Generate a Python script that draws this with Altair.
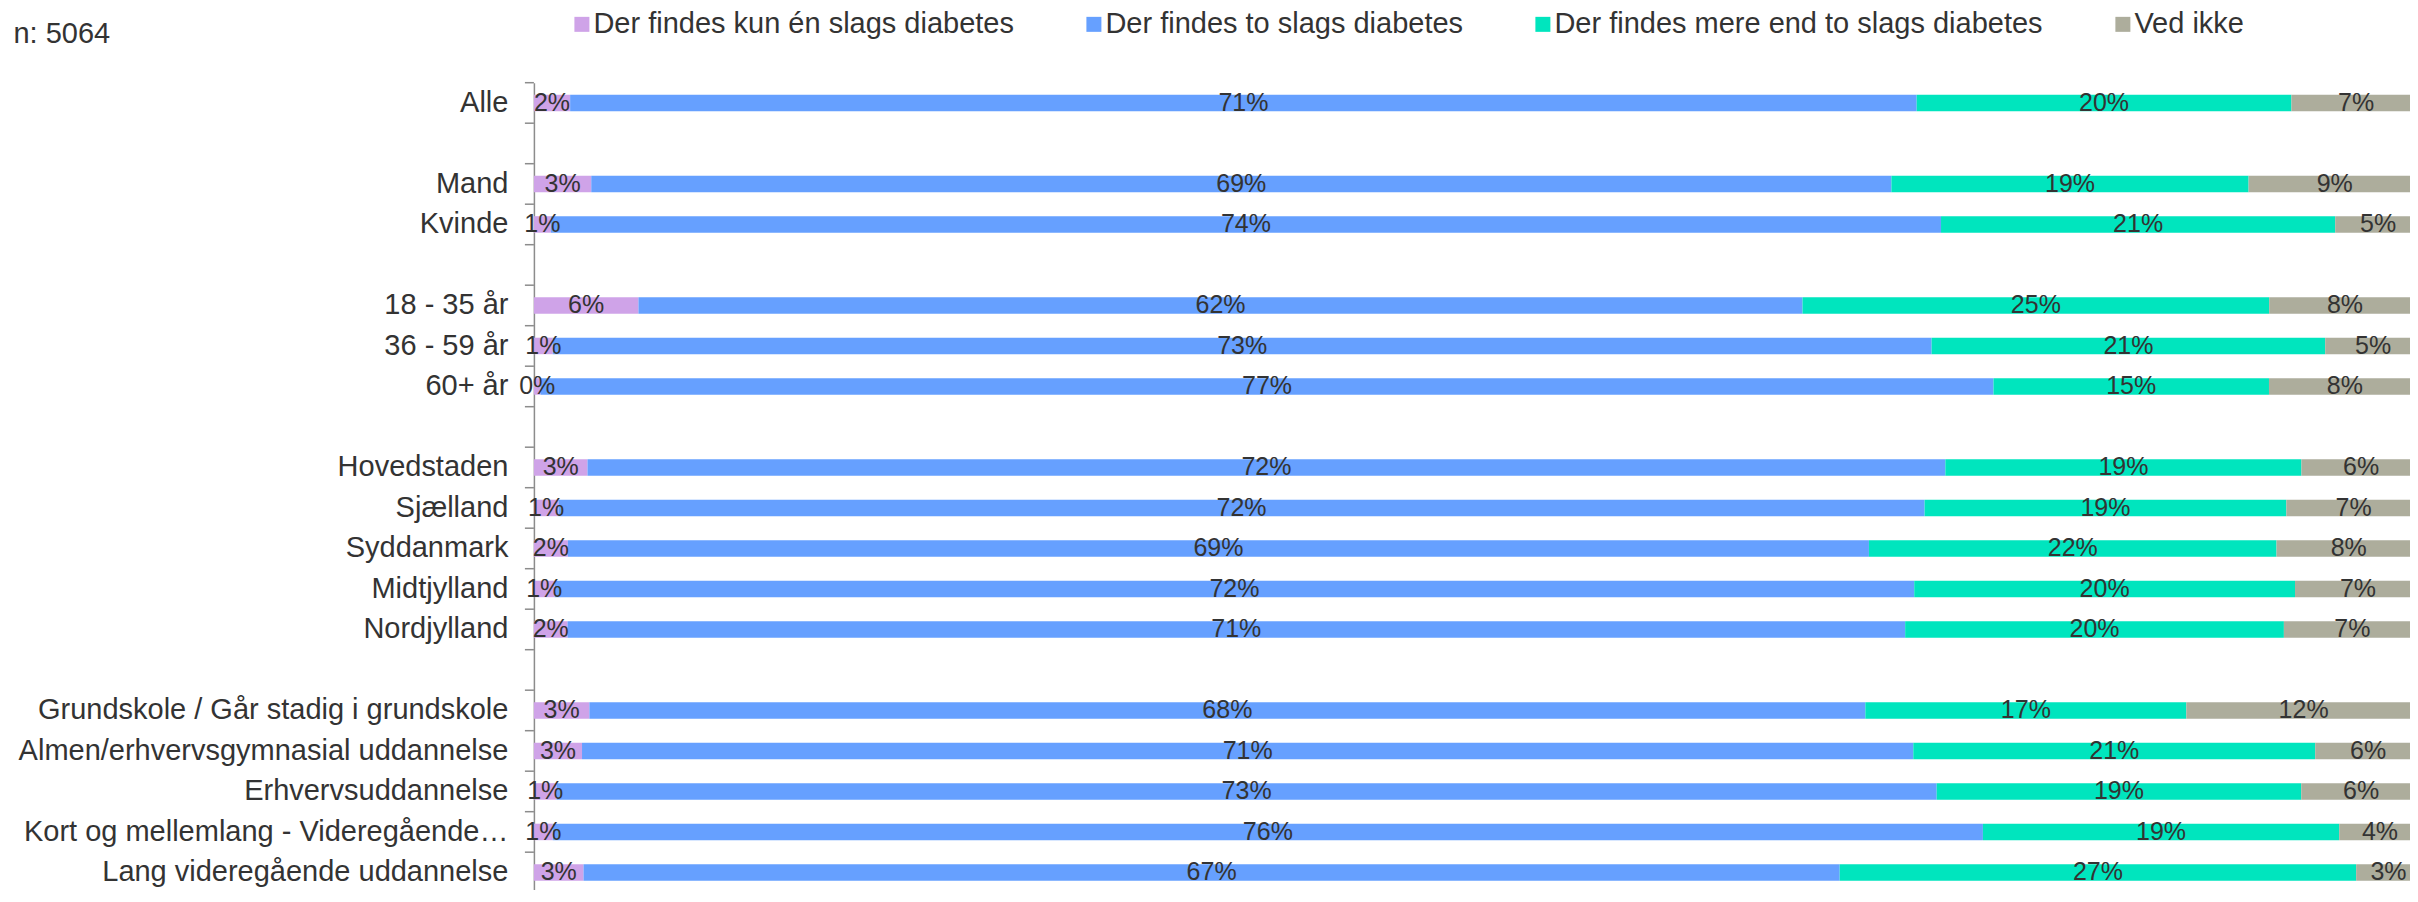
import altair as alt
import pandas as pd

# ---- data -------------------------------------------------------------
categories = [
    "Alle", " ",
    "Mand", "Kvinde", "  ",
    "18 - 35 år", "36 - 59 år", "60+ år", "   ",
    "Hovedstaden", "Sjælland", "Syddanmark", "Midtjylland", "Nordjylland", "    ",
    "Grundskole / Går stadig i grundskole",
    "Almen/erhvervsgymnasial uddannelse",
    "Erhvervsuddannelse",
    "Kort og mellemlang - Videregående…",
    "Lang videregående uddannelse",
]
groups = [c for c in categories if c.strip()]

series = [
    "Der findes kun én slags diabetes",
    "Der findes to slags diabetes",
    "Der findes mere end to slags diabetes",
    "Ved ikke",
]
colors = ["#CFA3E8", "#66A0FF", "#00E5BE", "#ADAD9C"]

kun_en = [1.92, 3.04, 0.9, 5.54, 1.0, 0.35, 2.84, 1.3, 1.8, 1.1, 1.78, 2.94, 2.55, 1.2, 1.0, 2.63]
to_slags = [71.36, 68.90, 73.67, 61.69, 73.07, 77.0, 71.96, 72.4, 68.95, 72.05, 70.89, 67.62, 70.55, 73.14, 75.79, 66.57]
mere_end_to = [19.86, 18.93, 20.89, 24.73, 20.86, 14.6, 18.87, 19.17, 21.6, 20.18, 20.07, 17.01, 21.3, 19.32, 18.88, 27.37]
ved_ikke = [6.86, 9.13, 4.54, 8.04, 5.07, 8.05, 6.33, 7.13, 7.65, 6.67, 7.26, 12.43, 5.6, 6.34, 4.33, 3.43]

subtitle_text = "n: 5064"

rows = []
for gi, g in enumerate(groups):
    cum = 0.0
    for si, (s, vals) in enumerate(zip(series, [kun_en, to_slags, mere_end_to, ved_ikke])):
        v = vals[gi]
        rows.append(dict(group=g, series=s, order=si, value=v, start=cum,
                         end=cum + v, mid=cum + v / 2, label=f"{v:.0f}%"))
        cum += v
df = pd.DataFrame(rows)
ticks_df = pd.DataFrame({"group": categories})

FONT = "Liberation Sans"
TXT = "#333333"
AX = "#8C8C8C"

# the original chart is cropped at its right and bottom edges: the scales
# run slightly past the visible view
yscale = alt.Scale(domain=categories, paddingInner=0, paddingOuter=0, range=[0, 810])
xscale = alt.Scale(domain=[0, 100], nice=False, zero=True, range=[0, 1887])

y_axis = alt.Axis(title=None, labelFontSize=29, labelFont=FONT, labelColor=TXT,
                  labelPadding=26, ticks=False, tickSize=0, labelLimit=700,
                  domainColor=AX, domainWidth=1.5, grid=False)

bars = alt.Chart(df).mark_bar(size=16.5).encode(
    y=alt.Y("group:N", scale=yscale, axis=y_axis, sort=categories),
    x=alt.X("start:Q", scale=xscale, axis=None),
    x2="end:Q",
    color=alt.Color("series:N", scale=alt.Scale(domain=series, range=colors),
                    legend=alt.Legend(orient="none", legendX=33.5, legendY=-73.1,
                                      direction="horizontal", columns=4, title=None,
                                      labelFontSize=29, labelFont=FONT, labelColor=TXT,
                                      symbolType="square", symbolSize=225,
                                      symbolStrokeWidth=0, labelOffset={"expr": "-3"},
                                      columnPadding=65, padding=0, labelLimit=700)),
    order=alt.Order("order:Q"),
)

labels = alt.Chart(df).mark_text(fontSize=25, font=FONT, color=TXT, baseline="middle").encode(
    y=alt.Y("group:N", scale=yscale, axis=y_axis, sort=categories),
    x=alt.X("mid:Q", scale=xscale, axis=None),
    text="label:N",
)

ticks = alt.Chart(ticks_df).mark_rule(color=AX, strokeWidth=1.5).encode(
    y=alt.Y("group:N", scale=yscale, axis=y_axis, sort=categories, bandPosition=0),
    x=alt.value(-9),
    x2=alt.value(0),
)

chart = alt.layer(ticks, bars, labels).properties(
    width=1876,
    height=807,
    background="white",
    title=alt.TitleParams(subtitle_text, anchor="start", frame="group", fontSize=29,
                          font=FONT, color=TXT, fontWeight="normal", dx=-520.5,
                          offset=0, dy=39),
    autosize=alt.AutoSizeParams(type="none"),
    padding={"left": 525.9, "top": 74.7, "right": 0, "bottom": 0},
).configure_view(strokeWidth=0)

chart.save("out.html", embed_options={"renderer": "svg", "actions": False})
